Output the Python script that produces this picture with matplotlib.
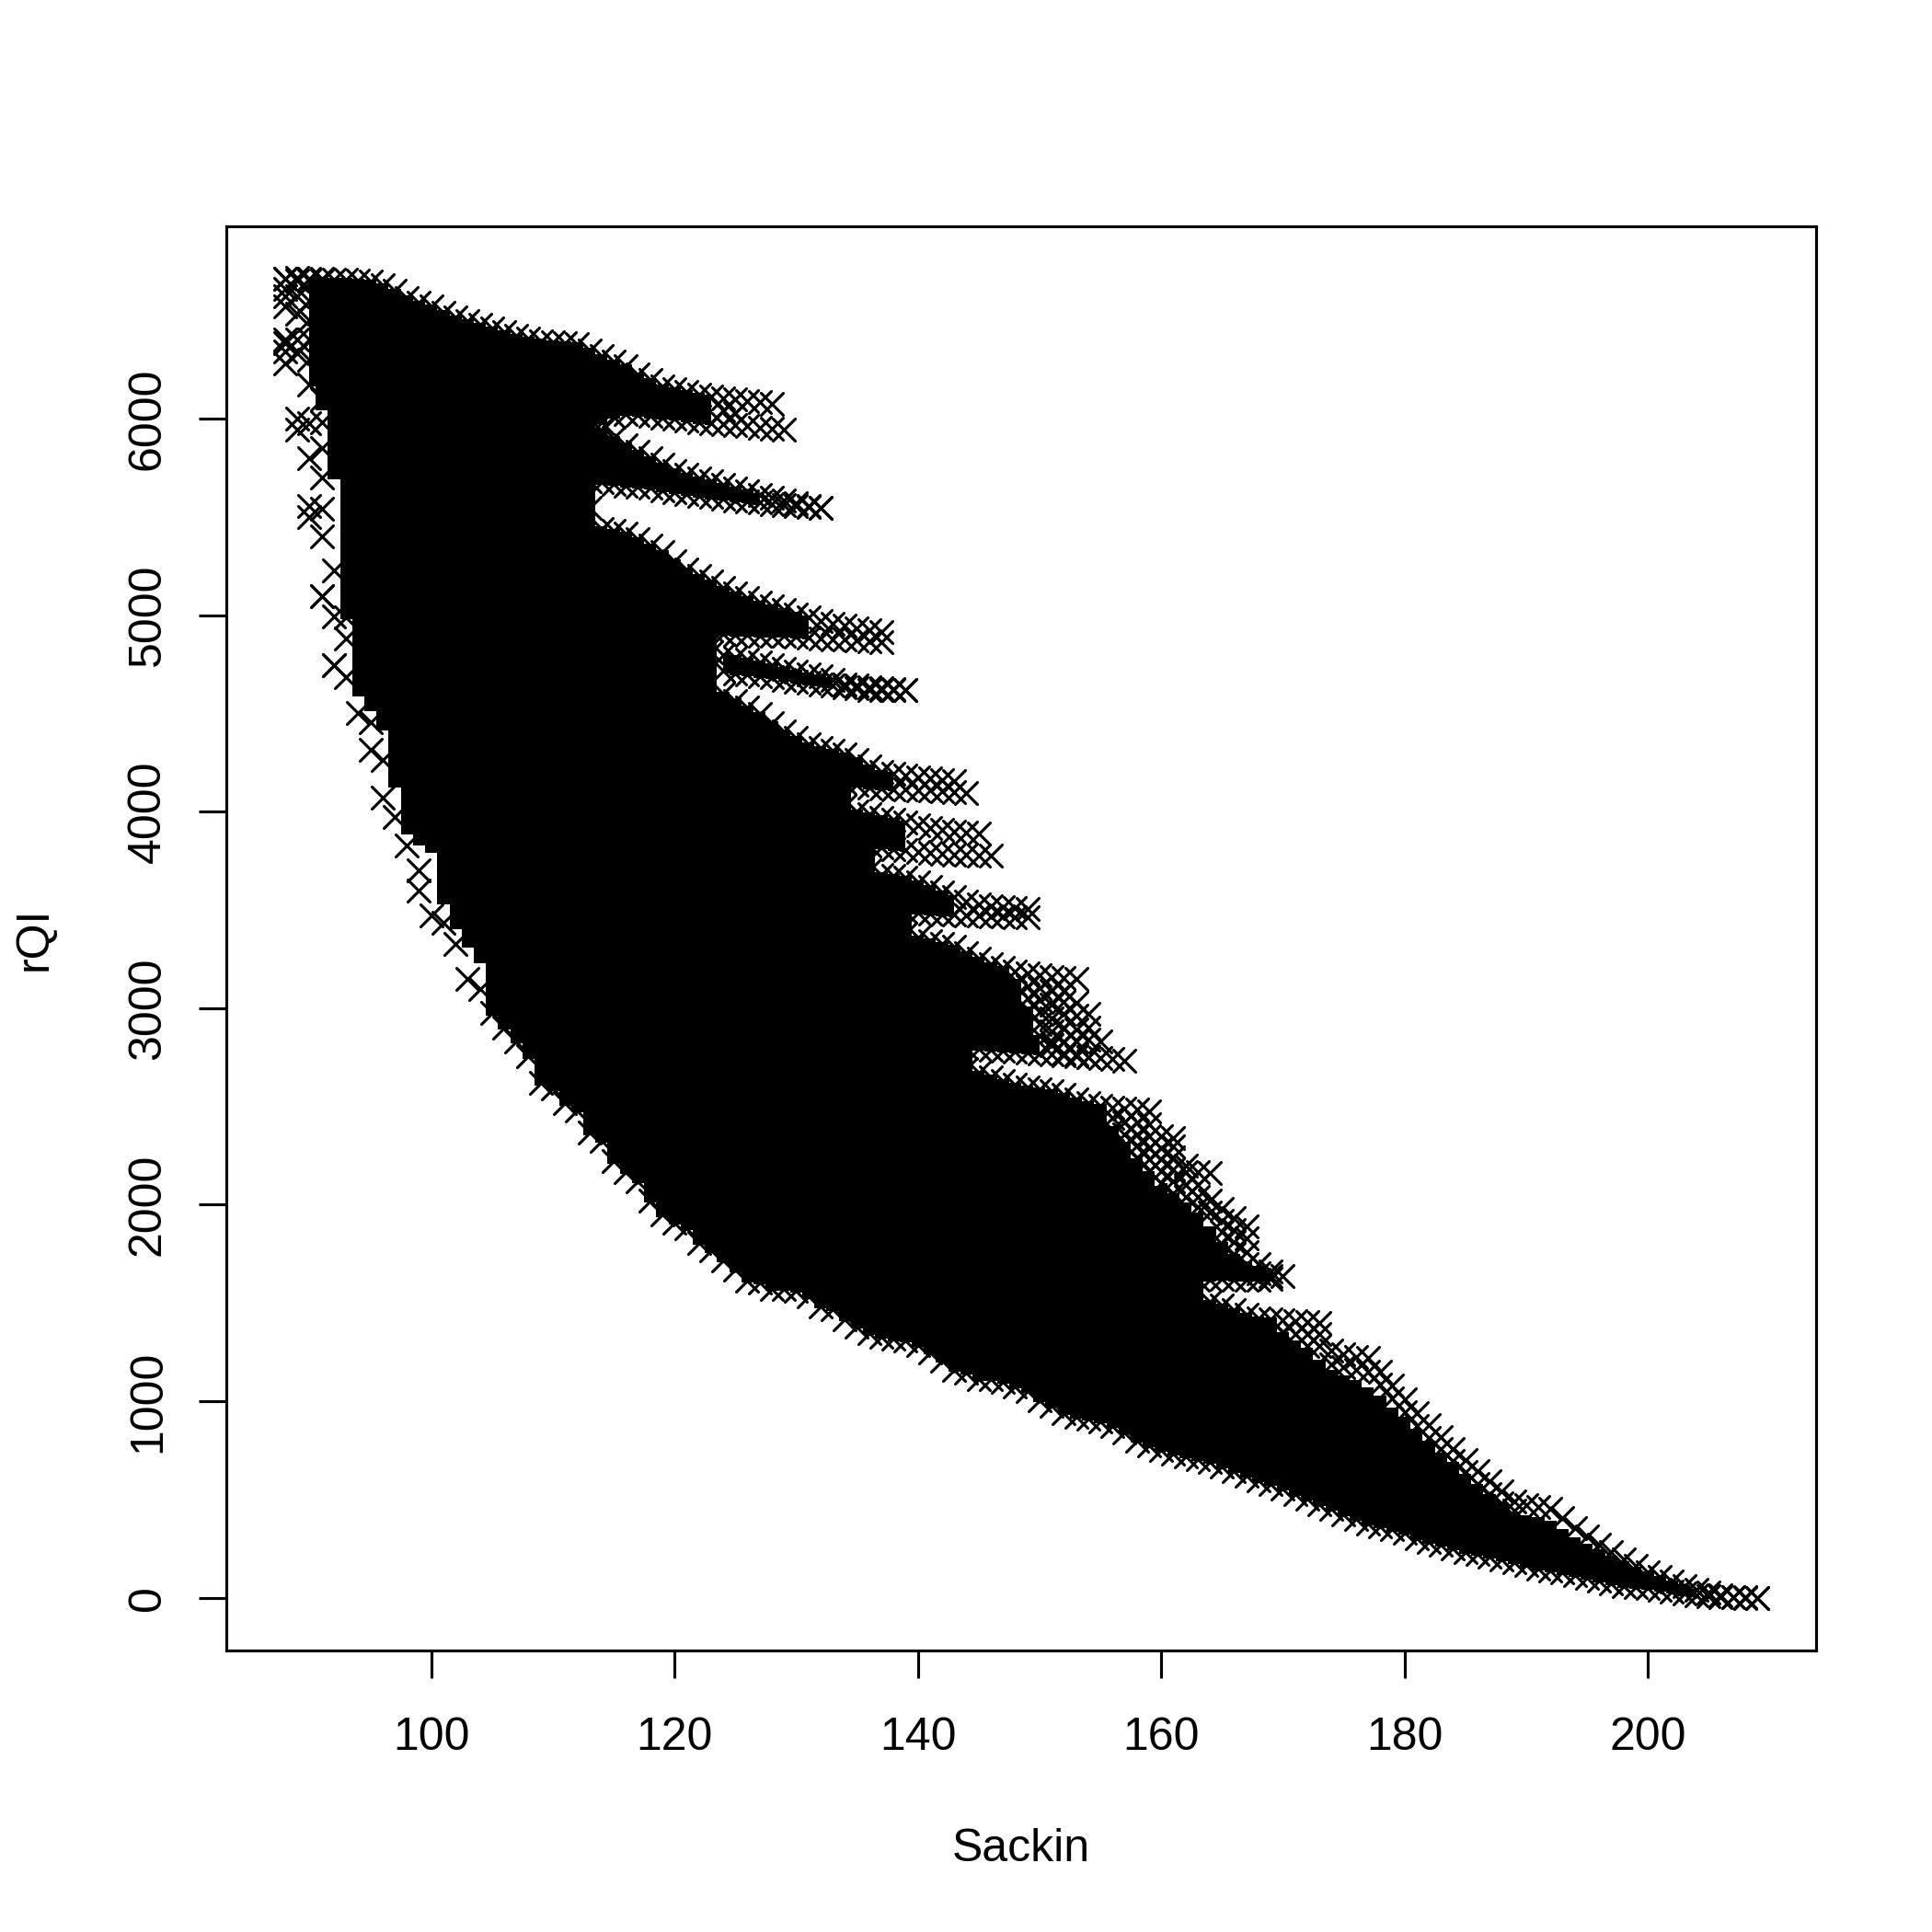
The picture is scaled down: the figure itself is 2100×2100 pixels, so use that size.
import numpy as np
import matplotlib
matplotlib.use("Agg")
from matplotlib import pyplot as plt
from matplotlib.markers import MarkerStyle

plt.rcParams['font.family'] = ['Liberation Sans', 'DejaVu Sans']

# Sackin values are integers. Each list is the top or bottom row of one fan of
# points, read off the picture, and starts at the x given in its name.
# The middle of the cloud is so overplotted that no single point can be read,
# so it is drawn as a black band between these rows.
A_top_88 = [6711, 6715, 6712, 6710, 6708, 6705, 6700, 6695, 6680, 6650, 6615, 6590, 6570, 6540,
            6515, 6495, 6478, 6460, 6440, 6422, 6405, 6395, 6388, 6382, 6377, 6348, 6318, 6290,
            6265, 6225, 6195, 6165, 6150, 6135, 6122, 6110, 6103, 6096, 6090, 6083, 6076]
A_bot_113 = [5960, 5980, 6010, 6024, 6020, 6012, 6005, 5998, 5990, 5982, 5975, 5970, 5965, 5960,
             5955, 5950, 5945]
B_top_113 = [5960, 5940, 5900, 5866, 5830, 5797, 5765, 5735, 5715, 5697, 5680, 5663, 5645, 5628,
             5610, 5595, 5582, 5570, 5557, 5544]
B_bot_113 = [5683, 5675, 5668, 5660, 5653, 5647, 5635, 5625, 5615, 5607, 5600, 5592, 5585, 5578,
             5572, 5566, 5560, 5553, 5548, 5544]
C_top_114 = [5440, 5428, 5416, 5385, 5352, 5320, 5275, 5233, 5200, 5172, 5140, 5112, 5088, 5065,
             5044, 5025, 5005, 4988, 4972, 4958, 4945, 4932, 4922, 4915]
C_bot_121 = [4945, 4935, 4925, 4905, 4900, 4898, 4897, 4895, 4894, 4890, 4886, 4882, 4878, 4874,
             4870, 4866, 4862]
D_top_123 = [4810, 4797, 4785, 4772, 4759, 4745, 4727, 4712, 4700, 4690, 4668, 4648, 4640, 4635,
             4630, 4625, 4620]
D_bot_124 = [4715, 4705, 4697, 4690, 4685, 4670, 4662, 4654, 4647, 4640, 4634, 4627, 4620, 4620,
             4620, 4620]
E_top_124 = [4600, 4565, 4530, 4495, 4450, 4408, 4375, 4344, 4325, 4308, 4291, 4265, 4232, 4203,
             4192, 4183, 4175, 4168, 4162, 4156]
E_bot_134 = [4148, 4135, 4122, 4118, 4115, 4113, 4110, 4107, 4103, 4100, 4095]
F_top_134 = [4030, 4000, 3985, 3970, 3958, 3946, 3930, 3915, 3908, 3900, 3893, 3887]
F_bot_134 = [3850, 3841, 3830, 3820, 3809, 3803, 3797, 3790, 3785, 3782, 3780, 3777, 3775]
G_top_136 = [3700, 3680, 3672, 3664, 3640, 3617, 3590, 3564, 3540, 3527, 3517, 3514, 3510, 3507]
G_bot_138 = [3495, 3489, 3485, 3481, 3478, 3475, 3472, 3470, 3468, 3466, 3465, 3463]
H_top_139 = [3377, 3360, 3343, 3328, 3312, 3280, 3250, 3225, 3203, 3188, 3175, 3167, 3160, 3154,
             3150]
H_bot_144 = [2800, 2795, 2790, 2785, 2780, 2775, 2770, 2765, 2760, 2755, 2750, 2745, 2740, 2733]
I_top_144 = [2690, 2670, 2650, 2630, 2610, 2596, 2586, 2578, 2557, 2534, 2515, 2503, 2495, 2487,
             2483, 2477, 2350, 2341, 2200, 2164, 2160]
J_top_160 = [2100, 2050, 2000, 1950, 1880, 1800, 1740, 1700, 1680, 1640]
J_bot_160 = [1620, 1620, 1620, 1620, 1620, 1622, 1620, 1620, 1620, 1622]
K_top_164 = [1507, 1485, 1462, 1442, 1423, 1418, 1413, 1408, 1404, 1400, 1258, 1240, 1225, 1222,
             1150, 1080, 1010, 941, 880, 818, 758, 700, 645, 594, 540, 490, 470, 460, 454, 405,
             355, 311, 270, 232, 194, 162, 130, 105, 82, 60, 40, 26, 13, 4, 3, 0]
# lowest point of each column from x = 90
low_90 = [5500, 5098, 4746, 4685, 4503, 4456, 4262, 3973, 3828, 3597, 3472, 3433, 3325, 3147, 3097,
          2974, 2903, 2833, 2754, 2618, 2590, 2515, 2478, 2365, 2324, 2220, 2168, 2121, 2023, 1949,
          1907, 1882, 1804, 1766, 1715, 1668, 1616, 1605, 1570, 1570, 1562, 1535, 1484, 1468, 1418,
          1382, 1348, 1328, 1317, 1309, 1285, 1249, 1207, 1161, 1145, 1113, 1113, 1101, 1075, 1051,
          1007, 976, 941, 923, 913, 898, 876, 840, 801, 775, 751, 735, 720, 705, 692, 668, 645, 622,
          600, 578, 555, 528, 505, 478, 452, 425, 400, 380, 365, 348, 332, 305, 285, 270, 250, 235,
          222, 210, 195, 180, 165, 148, 138, 128, 118, 102, 90, 75, 62, 55, 50, 40, 30, 20, 12, 8,
          5, 3, 1, 0]
# bottom of the solid part at the left, where the columns end in loose points
solid_low_90 = [6175, 6050, 5700, 4990, 4596, 4520, 4425, 4131, 3892, 3840, 3800, 3536, 3410, 3320,
                3238]
# top of the solid part where the top row is only a loose lattice
solid_top_156 = [2388, 2310, 2228, 2160, 2088, 2030, 1980, 1940]
solid_top_170 = [1340, 1300, 1260, 1200]
solid_top_174 = [1150, 1120, 1100, 1060, 1020, 960, 910, 850, 790, 730, 680, 620, 570, 520, 470, 430,
                 410, 400, 380, 340, 300, 265, 235, 205, 175, 150, 125, 100, 80, 55, 35]
H_solid_top_144 = [3280, 3250, 3225, 3203, 3140, 3000, 2853]

# loose points at the left edge and in the lattices at the fan tips
loose_x = [88] * 8 + [89] * 7 + [90] * 9 + [91] * 10 + [92] * 3 + [93] * 2 + [95] + [96] + [99] \
    + [112, 113, 124, 125, 148, 148, 149, 149, 149] + [150] * 5 \
    + [151] * 6 + [152] * 6 + [153] * 5 + [154] * 4 + [155] \
    + [156] * 2 + [157] * 3 + [158] * 4 + [159] * 5 + [160] * 4 + [161] * 5 + [162] * 3 + [163] * 3 \
    + [164] * 2 + [165] * 4 + [166] * 4 + [167] * 4 + [168] * 2 + [169] * 2 + [170] * 2 \
    + [171, 172, 172, 173, 173] \
    + [174, 175, 176, 177, 178, 179, 180, 181, 182, 183, 184, 185, 186, 187, 188, 189]
loose_y = [6711, 6660, 6620, 6573, 6400, 6383, 6340, 6282,
           6700, 6620, 6532, 6400, 6330, 6000, 5945,
           6700, 6600, 6500, 6400, 6300, 6175, 5975, 5800, 5556,
           6700, 6500, 6300, 6100, 5980, 5850, 5700, 5540, 5401, 5098,
           5227, 4995, 4746,
           4990, 4880,
           4314,
           4072,
           3700,
           5600, 5545, 6040, 6030, 3120, 3060, 3110, 3050, 2990,
           3100, 3040, 2980, 2920, 2860,
           3090, 3020, 2950, 2880, 2810, 2830,
           3090, 3030, 2970, 2900, 2830, 2770,
           3026, 2960, 2890, 2830, 2765,
           2973, 2900, 2840, 2750,
           2833,
           2440, 2380,
           2420, 2360, 2300,
           2420, 2360, 2300, 2240,
           2410, 2350, 2290, 2230, 2170,
           2290, 2230, 2170, 2110,
           2299, 2240, 2180, 2120, 2060,
           2164, 2100, 2040,
           2100, 2040, 1990,
           2020, 1960,
           1977, 1920, 1860, 1800,
           1930, 1870, 1810, 1750,
           1888, 1830, 1760, 1700,
           1700, 1650,
           1660, 1635,
           1635, 1350,
           1340, 1340, 1280, 1340, 1280,
           1190, 1175, 1160, 1150, 1085, 1015, 945, 875, 815, 755, 695, 640, 580, 530, 480, 445]

x_ticks = [100, 120, 140, 160, 180, 200]
y_ticks = [0, 1000, 2000, 3000, 4000, 5000, 6000]

fig = plt.figure(figsize=(7, 7), dpi=300)
ax = fig.add_axes([246 / 2100, 306 / 2100, 1728 / 2100, 1548 / 2100])
ax.set_xlim(83.16, 213.84)
ax.set_ylim(-268, 6978)
ax.set_xticks(x_ticks)
ax.set_yticks(y_ticks)
ax.tick_params(length=7.2, width=0.75, labelsize=12)
ax.tick_params(axis='x', pad=10)
ax.tick_params(axis='y', pad=7.7)
for lab in ax.get_yticklabels():
    lab.set_rotation(90)
    lab.set_va('center')
for s in ax.spines.values():
    s.set_linewidth(0.75)

x_mark = MarkerStyle('x', capstyle='round')
# how far the solid part reaches past a row of crosses, in y units
notch = 10


def row(x0, vals):
    ax.plot(np.arange(x0, x0 + len(vals)), vals, ls='none', marker=x_mark, ms=5.7, mew=0.75, color='k')


def val(x0, vals, a, b):
    return np.array(vals[a - x0:b - x0 + 1])


def band(x0_t, top, x0_b, bot, a, b):
    xs = np.arange(a, b + 1)
    ax.fill_between(xs, val(x0_b, bot, a, b) - notch, val(x0_t, top, a, b) + notch,
                    color='k', lw=0, step='mid')


# solid middle of the cloud, below the top row of each fan
core_top = A_top_88[2:26] + C_top_114[:10] + E_top_124[:11] + F_top_134[1:3] + G_top_136[1:4] \
    + H_top_139[1:6] + I_top_144[1:12] + solid_top_156 + K_top_164[:6] + solid_top_170 + solid_top_174
core_bot = solid_low_90 + low_90[15:115]
band(90, core_top, 90, core_bot, 90, 204)

# solid parts of the fans
band(88, A_top_88, 113, A_bot_113, 113, 123)
band(113, B_top_113, 113, B_bot_113, 113, 127)
band(114, C_top_114, 121, C_bot_121, 121, 131)
band(123, D_top_123, 124, D_bot_124, 124, 133)
band(124, E_top_124, 134, E_bot_134, 134, 138)
band(134, F_top_134, 134, F_bot_134, 134, 139)
band(136, G_top_136, 138, G_bot_138, 138, 143)
band(144, H_solid_top_144, 144, H_bot_144, 144, 150)
band(160, J_top_160, 160, J_bot_160, 160, 169)

for x0, vals in [(88, A_top_88), (113, A_bot_113), (113, B_top_113), (113, B_bot_113),
                 (114, C_top_114), (121, C_bot_121), (123, D_top_123), (124, D_bot_124),
                 (124, E_top_124), (134, E_bot_134), (134, F_top_134), (134, F_bot_134),
                 (136, G_top_136), (138, G_bot_138), (139, H_top_139), (144, H_bot_144),
                 (144, I_top_144), (160, J_bot_160), (164, K_top_164), (90, low_90)]:
    row(x0, vals)
ax.plot(loose_x, loose_y, ls='none', marker=x_mark, ms=5.7, mew=0.75, color='k')

fig.text(1110 / 2100, 1 - 2023 / 2100, 'Sackin', ha='center', va='baseline', fontsize=12)
fig.text(15 / 2100, 1 - 1020 / 2100, 'rQI', rotation=90, ha='left', va='center', fontsize=12)

fig.savefig('out.png', dpi=300)
